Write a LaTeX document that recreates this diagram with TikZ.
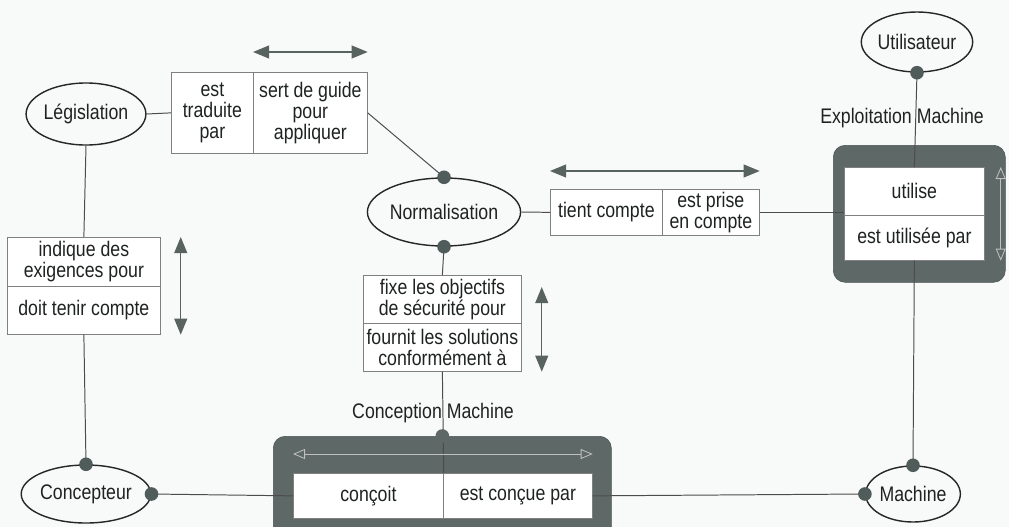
\documentclass[tikz,border=0pt]{standalone}
\usepackage{fontspec}
\setmainfont{Liberation Sans}[FakeStretch=0.84]
\usepackage{tikz}
\usetikzlibrary{shapes.geometric,arrows.meta}
\definecolor{paper}{HTML}{F8F9F9}
\definecolor{ink}{HTML}{1E2221}
\definecolor{framegrey}{HTML}{5E6866}
\definecolor{dotgrey}{HTML}{4F5C5A}
\definecolor{arrowgrey}{HTML}{58625F}
\tikzstyle{entity} = [ellipse, draw=black!85, line width=1pt, inner sep=0pt, text=ink]
\tikzstyle{cell} = [rectangle, draw=black!50, line width=0.5pt, fill=white, align=center, inner sep=1pt, text=ink, anchor=north west]
\tikzstyle{frame} = [rectangle, rounded corners=0.3cm, fill=framegrey, draw=framegrey!80!black, anchor=north west]
\tikzstyle{connector} = [line width=0.7pt, draw=black!70]
\tikzstyle{dot} = [circle, fill=dotgrey, inner sep=0pt, minimum size=0.34cm]
\tikzstyle{flow} = [line width=1pt, draw=arrowgrey, {Triangle[length=0.4cm,width=0.32cm]}-{Triangle[length=0.4cm,width=0.32cm]}]
\tikzstyle{flowlight} = [line width=0.6pt, draw=black!25, {Triangle[open,length=0.3cm,width=0.25cm]}-{Triangle[open,length=0.3cm,width=0.25cm]}]

\begin{document}
\begin{tikzpicture}[x=0.025cm,y=-0.025cm,font=\fontsize{15}{14.8}\selectfont]
    \fill[paper] (0,0) rectangle (1009,527);
    \useasboundingbox (0,0) rectangle (1009,527);
    % frames
    \node (explframe) [frame, minimum width=4.3cm, minimum height=3.425cm] at (833,145) {};
    \node (concframe) [frame, minimum width=8.45cm, minimum height=2.6cm] at (273,436) {};
    % entities
    \node (leg) [entity, minimum width=2.875cm, minimum height=1.55cm] at (86,114) {Législation};
    \node (norm) [entity, minimum width=3.125cm, minimum height=1.7cm] at (444,212) {Normalisation};
    \node (util) [entity, minimum width=2.55cm, minimum height=1.5cm] at (917,42) {Utilisateur};
    \node (conc) [entity, minimum width=2.825cm, minimum height=1.45cm] at (86,494) {Concepteur};
    \node (mach) [entity, minimum width=2.275cm, minimum height=1.4cm] at (913,494) {Machine};
    % relations
    \node (legA) [cell, minimum width=2.05cm, minimum height=2.025cm] at (171,72) {est\\traduite\\par};
    \node (legB) [cell, minimum width=2.85cm, minimum height=2.025cm] at (253,72) {sert de guide\\pour\\appliquer};
    \node (normA) [cell, minimum width=2.8cm, minimum height=1.15cm] at (550,189) {tient compte};
    \node (normB) [cell, minimum width=2.425cm, minimum height=1.15cm] at (662,189) {est prise\\en compte};
    \node (indA) [cell, minimum width=3.825cm, minimum height=1.225cm] at (7,237) {indique des\\exigences pour};
    \node (indB) [cell, minimum width=3.825cm, minimum height=1.2cm] at (7,286) {doit tenir compte};
    \node (fixA) [cell, minimum width=3.95cm, minimum height=1.2cm] at (363,275) {fixe les objectifs\\de sécurité pour};
    \node (fixB) [cell, minimum width=3.95cm, minimum height=1.2cm] at (363,323) {fournit les solutions\\conformément à};
    \node (useA) [cell, minimum width=3.5cm, minimum height=1.2cm] at (844,167) {utilise};
    \node (useB) [cell, minimum width=3.5cm, minimum height=1.125cm] at (844,215) {est utilisée par};
    \node (desA) [cell, minimum width=3.75cm, minimum height=1.125cm] at (293,473) {conçoit};
    \node (desB) [cell, minimum width=3.725cm, minimum height=1.125cm] at (443,473) {est conçue par};
    % frame titles
    \node (explLabel) [text=ink] at (902,118) {Exploitation Machine};
    \node (concLabel) [text=ink] at (433,413) {Conception Machine};
    % connectors
    \draw [connector] (leg.east) -- (legA.west);
    \draw [connector] (legB.east) -- (norm.north);
    \draw [connector] (leg.south) -- (indA.north);
    \draw [connector] (indB.south) -- (conc.north);
    \draw [connector] (norm.east) -- (normA.west);
    \draw [connector] (normB.east) -- (normB.east -| useA.south west);
    \draw [connector] (norm.south) -- (fixA.north);
    \draw [connector] (fixB.south) -- (desA.north east);
    \draw [connector] (util.south) -- (useA.north);
    \draw [connector] (useB.south) -- (mach.north);
    \draw [connector] (conc.east) -- (desA.west);
    \draw [connector] (desB.east) -- (mach.west);
    % reading directions
    \draw [flow] ([yshift=0.5cm]legB.north west) -- ([yshift=0.5cm]legB.north east);
    \draw [flow] ([yshift=0.45cm]normA.north west) -- ([yshift=0.45cm]normB.north east);
    \draw [flow] ([xshift=0.5cm]indA.north east) -- ([xshift=0.5cm]indB.south east);
    \draw [flow] ([xshift=0.5cm,yshift=-0.3cm]fixA.north east) -- ([xshift=0.5cm]fixB.south east);
    \draw [flowlight] ([xshift=0.4cm]useA.north east) -- ([xshift=0.4cm]useB.south east);
    \draw [flowlight] ([yshift=0.475cm]desA.north west) -- ([yshift=0.475cm]desB.north east);
    % dots
    \node (dNormN) [dot] at (norm.north) {};
    \node (dNormS) [dot] at (norm.south) {};
    \node (dUtilS) [dot] at (util.south) {};
    \node (dConcN) [dot] at (conc.north) {};
    \node (dConcE) [dot] at (conc.east) {};
    \node (dMachN) [dot] at (mach.north) {};
    \node (dMachW) [dot] at (mach.west) {};
    \node (dFrame) [dot, fill=framegrey] at (concframe.north) {};
\end{tikzpicture}
\end{document}
